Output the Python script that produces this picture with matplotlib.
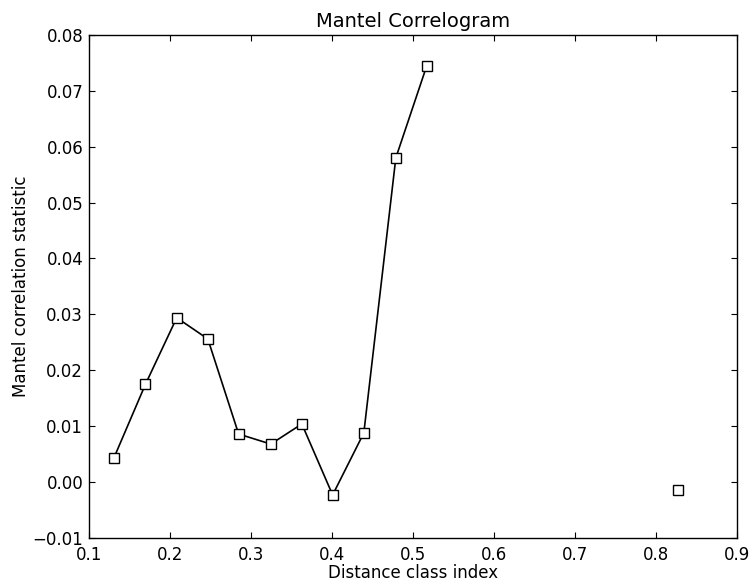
import numpy as np
import matplotlib
matplotlib.use("Agg")
import matplotlib.pyplot as plt

x = [0.131, 0.170, 0.2086, 0.247, 0.285, 0.3247, 0.363, 0.401, 0.4395, 0.479, 0.517, 0.672, 0.827]
y = [0.0043, 0.0175, 0.0294, 0.0256, 0.0086, 0.0068, 0.0104, -0.0023, 0.0088, 0.0580, 0.0744, np.nan, -0.0014]

fig = plt.figure(figsize=(7.52, 5.81), dpi=100)
ax = fig.add_axes([0.118, 0.074, 0.862, 0.866])
ax.plot(x, y, color='black', linewidth=1.2, marker='s', markersize=7,
        markerfacecolor='white', markeredgecolor='black', markeredgewidth=1.0)
ax.set_xlim(0.1, 0.9)
ax.set_ylim(-0.01, 0.08)
ax.set_xticks(np.arange(0.1, 0.91, 0.1))
ax.set_yticks(np.arange(-0.01, 0.081, 0.01))
ax.set_xticklabels([f"{v:.1f}" for v in np.arange(0.1, 0.91, 0.1)])
ax.set_yticklabels([f"{v:.2f}".replace("-", "\u2212") for v in np.arange(-0.01, 0.081, 0.01)])
ax.tick_params(direction='in', top=True, right=True, length=4, labelsize=12)
ax.tick_params(axis='x', pad=6)
ax.tick_params(axis='y', pad=4)
ax.set_xlabel("Distance class index", fontsize=12, labelpad=0)
ax.set_ylabel("Mantel correlation statistic", fontsize=12, labelpad=1.5)
ax.set_title("Mantel Correlogram", fontsize=14, pad=6)
for s in ax.spines.values():
    s.set_linewidth(1.0)
fig.savefig("out.png", dpi=100)
